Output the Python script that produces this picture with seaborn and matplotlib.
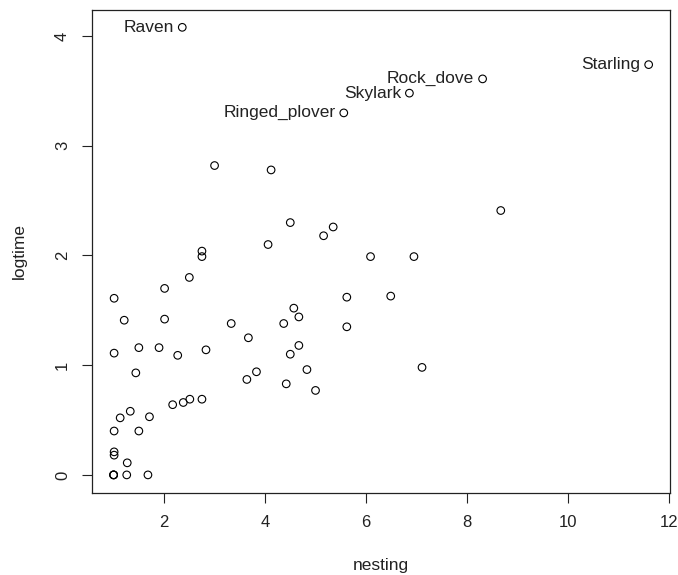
import matplotlib
matplotlib.use('Agg')
import matplotlib.pyplot as plt
import seaborn as sns
import pandas as pd

# nesting / logtime values
nesting = [2.36, 5.56, 6.86, 8.31, 11.6,
           3.0, 4.12, 8.67, 4.50, 5.16, 5.35, 4.06, 2.75, 2.75, 6.09, 6.95,
           2.50, 2.01, 1.01, 5.62, 6.49, 4.57, 4.67, 1.21, 2.01, 3.33, 4.37,
           5.62, 3.67, 4.67, 1.01, 1.50, 1.90, 2.27, 2.83, 4.50, 1.44, 3.83,
           4.83, 3.64, 4.42, 5.00, 7.11, 2.17, 2.38, 2.51, 2.75, 1.33, 1.13,
           1.71, 1.01, 1.50, 1.01, 1.01, 1.27, 1.0, 1.0, 1.0, 1.26, 1.68]
logtime = [4.08, 3.30, 3.48, 3.61, 3.74,
           2.82, 2.78, 2.41, 2.30, 2.18, 2.26, 2.10, 2.04, 1.99, 1.99, 1.99,
           1.80, 1.70, 1.61, 1.62, 1.63, 1.52, 1.44, 1.41, 1.42, 1.38, 1.38,
           1.35, 1.25, 1.18, 1.11, 1.16, 1.16, 1.09, 1.14, 1.10, 0.93, 0.94,
           0.96, 0.87, 0.83, 0.77, 0.98, 0.64, 0.66, 0.69, 0.69, 0.58, 0.52,
           0.53, 0.40, 0.40, 0.21, 0.18, 0.11, 0.0, 0.0, 0.0, 0.0, 0.0]
names = ['Raven', 'Ringed_plover', 'Skylark', 'Rock_dove', 'Starling']

df = pd.DataFrame({'nesting': nesting, 'logtime': logtime})

sns.set_style('ticks')
plt.rcParams['font.family'] = ['Liberation Sans', 'DejaVu Sans']

fig = plt.figure(figsize=(6.78, 5.75), dpi=100)
ax = fig.add_axes([0.136, 0.143, 0.852, 0.840])
sns.scatterplot(data=df, x='nesting', y='logtime', ax=ax, s=30,
                facecolor='none', edgecolor='black', linewidth=0.8)

for i, name in enumerate(names):
    ax.annotate(name, (nesting[i], logtime[i]), xytext=(-6, 0), color='#222222',
                textcoords='offset points', ha='right', va='center', fontsize=12.5)

ax.set_xlim(0.576, 12.02)
ax.set_ylim(-0.163, 4.24)
ax.set_xticks([2, 4, 6, 8, 10, 12])
ax.set_yticks([0, 1, 2, 3, 4])
ax.tick_params(direction='out', length=7, width=0.8, labelsize=12,
               pad=9, colors='#222222')
for lab in ax.get_yticklabels():
    lab.set_rotation(90)
    lab.set_va('center')
for sp in ax.spines.values():
    sp.set_visible(True)
    sp.set_linewidth(0.9)
    sp.set_color('#222222')
ax.set_xlabel('nesting', fontsize=12.5, labelpad=20, color='#222222')
ax.set_ylabel('logtime', fontsize=12.5, labelpad=20, color='#222222')

fig.savefig('out.png', dpi=100)
